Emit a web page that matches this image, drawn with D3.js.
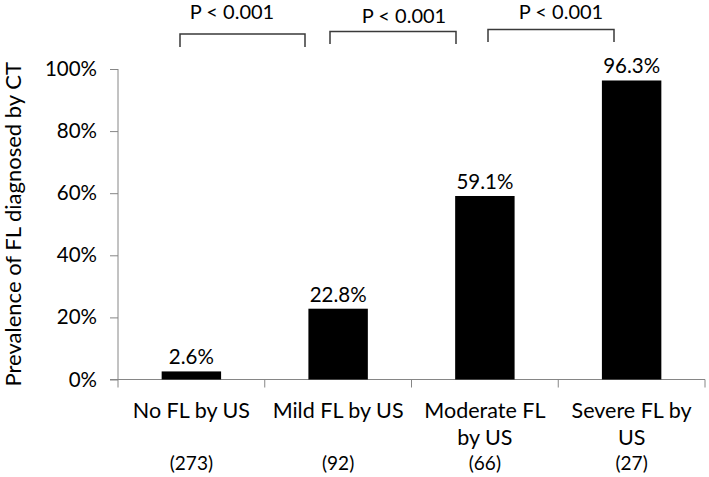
<!DOCTYPE html>
<html><head><meta charset="utf-8">
<script src="https://cdn.jsdelivr.net/npm/d3@7"></script>
<style>body{margin:0;background:#fff}svg{display:block}text{font-family:Lato,"Open Sans",sans-serif;fill:#000}</style>
</head><body><svg id="c" width="709" height="477"></svg>
<script>
const categories = ["No FL by US", "Mild FL by US", "Moderate FL by US", "Severe FL by US"];
const categoryLines = [["No FL by US"], ["Mild FL by US"], ["Moderate FL", "by US"], ["Severe FL by", "US"]];
const counts = ["(273)", "(92)", "(66)", "(27)"];
const values = [2.6, 22.8, 59.1, 96.3];
const yTicks = [0, 20, 40, 60, 80, 100];
const comparisons = [[0, 1, "P < 0.001"], [1, 2, "P < 0.001"], [2, 3, "P < 0.001"]];

const svg = d3.select("#c");
const x = d3.scaleBand().domain(categories).range([118, 705]).paddingInner(0.595).paddingOuter(0.2975);
const band = d3.scaleBand().domain(categories).range([118, 705]);
const y = d3.scaleLinear().domain([0, 100]).range([379.5, 69]);
const axisColor = "#868686";

// y axis
const ya = svg.append("g").attr("transform", "translate(118,0)")
  .call(d3.axisLeft(y).tickValues(yTicks).tickFormat(d => d + "%").tickSize(8).tickPadding(13));
ya.select(".domain").attr("stroke", axisColor).attr("d", `M0,${y(100)}V${y(0)}`);
ya.selectAll(".tick line").attr("stroke", axisColor);
ya.selectAll(".tick text").style("font-size", "20.5px").attr("font-family", "Lato").attr("fill", "#000");

// x axis
const xa = svg.append("g");
xa.append("line").attr("x1", 110).attr("x2", 705).attr("y1", y(0)).attr("y2", y(0)).attr("stroke", axisColor);
const bounds = categories.map(c => band(c)).concat([band(categories[3]) + band.bandwidth()]);
xa.selectAll("line.t").data(bounds).join("line").attr("class", "t")
  .attr("x1", d => d).attr("x2", d => d).attr("y1", y(0)).attr("y2", y(0) + 8).attr("stroke", axisColor);

// bars
svg.selectAll("rect.bar").data(values).join("rect").attr("class", "bar")
  .attr("x", (d, i) => x(categories[i])).attr("width", x.bandwidth())
  .attr("y", d => y(d)).attr("height", d => y(0) - y(d)).attr("fill", "#000");

// value labels
svg.selectAll("text.val").data(values).join("text").attr("class", "val")
  .attr("x", (d, i) => band(categories[i]) + band.bandwidth() / 2)
  .attr("y", d => y(d) - 7).attr("text-anchor", "middle").style("font-size", "20.5px")
  .text(d => d.toFixed(1) + "%");

// category labels
categoryLines.forEach((lines, i) => {
  const cx = band(categories[i]) + band.bandwidth() / 2;
  lines.forEach((l, j) => {
    svg.append("text").attr("x", cx).attr("y", 418 + j * 27).attr("text-anchor", "middle")
      .style("font-size", "21.5px").text(l);
  });
  svg.append("text").attr("x", cx).attr("y", 470).attr("text-anchor", "middle")
    .style("font-size", "19px").text(counts[i]);
});

// y title
svg.append("text").attr("transform", `translate(21,${(y(0) + y(100)) / 2}) rotate(-90)`)
  .attr("text-anchor", "middle").style("font-size", "22px").text("Prevalence of FL diagnosed by CT");

// brackets
const bracketGeom = [
  {x1: 180, x2: 305, top: 34, bot: 47, tx: 232, ty: 19},
  {x1: 330, x2: 456, top: 31.5, bot: 44, tx: 404, ty: 23},
  {x1: 488, x2: 614, top: 29.5, bot: 42, tx: 561, ty: 19}
];
comparisons.forEach((c, i) => {
  const g = bracketGeom[i];
  svg.append("path").attr("d", `M${g.x1},${g.bot}V${g.top}H${g.x2}V${g.bot}`)
    .attr("fill", "none").attr("stroke", "#3a3a3a").attr("stroke-width", 1.5);
  svg.append("text").attr("x", g.tx).attr("y", g.ty).attr("text-anchor", "middle")
    .style("font-size", "20px").text(c[2]);
});
</script></body></html>
